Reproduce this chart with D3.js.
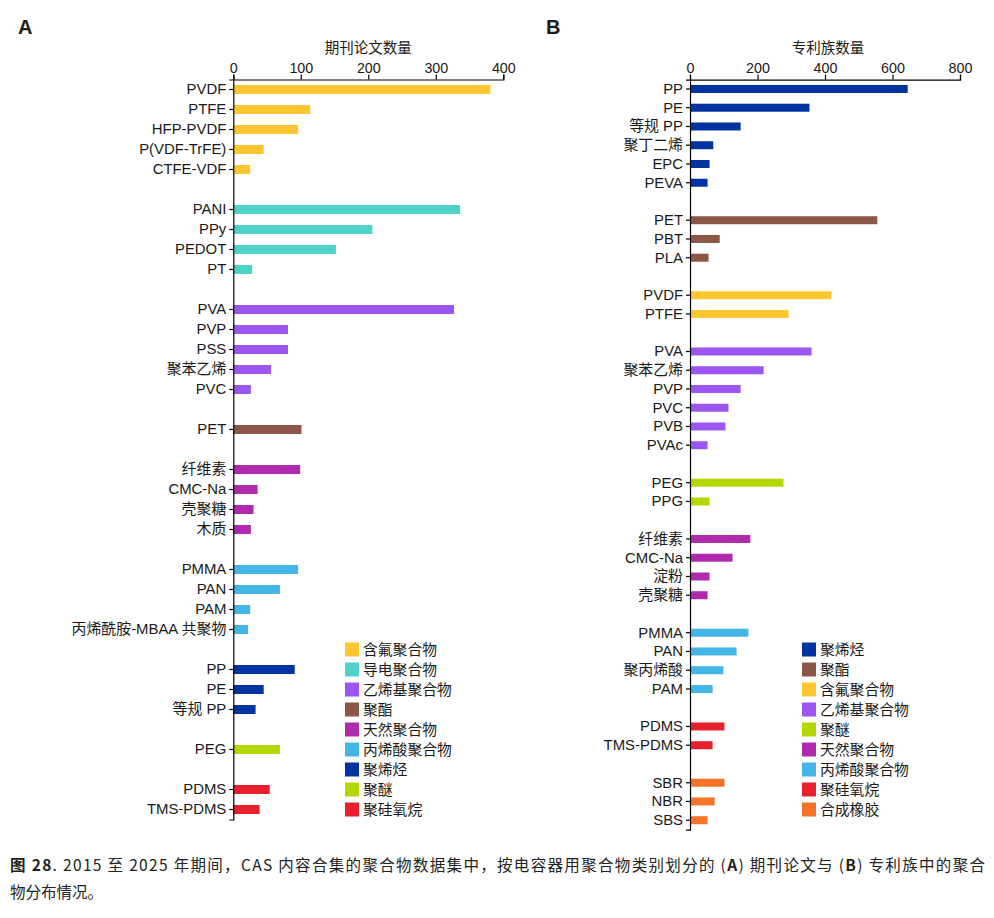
<!DOCTYPE html>
<html>
<head>
<meta charset="utf-8">
<script src="https://cdn.jsdelivr.net/npm/d3@7"></script>
<style>
  body { margin: 0; background: #fff; }
  svg { display: block; }
  text { font-family: "Liberation Sans", Arial, "Noto Sans CJK SC", sans-serif; fill: #1a1a1a; }
  .caption { font-family: "Noto Sans CJK SC", sans-serif; font-size: 15.5px; fill: #222; }
</style>
</head>
<body>
<svg id="chart" width="994" height="918"></svg>
<script>
// panel A: journal articles
const labelsA = ['PVDF', 'PTFE', 'HFP-PVDF', 'P(VDF-TrFE)', 'CTFE-VDF',
  'PANI', 'PPy', 'PEDOT', 'PT',
  'PVA', 'PVP', 'PSS', '聚苯乙烯', 'PVC',
  'PET',
  '纤维素', 'CMC-Na', '壳聚糖', '木质',
  'PMMA', 'PAN', 'PAM', '丙烯酰胺-MBAA 共聚物',
  'PP', 'PE', '等规 PP',
  'PEG',
  'PDMS', 'TMS-PDMS']
const valuesA = [381, 114, 96, 45, 25,
  336, 206, 152, 28,
  327, 81, 81, 56, 26,
  101,
  99, 36, 30, 26,
  96, 69, 25, 22,
  91, 45, 33,
  69,
  54, 39]
const groupsA = ['含氟聚合物', '含氟聚合物', '含氟聚合物', '含氟聚合物', '含氟聚合物',
  '导电聚合物', '导电聚合物', '导电聚合物', '导电聚合物',
  '乙烯基聚合物', '乙烯基聚合物', '乙烯基聚合物', '乙烯基聚合物', '乙烯基聚合物',
  '聚酯',
  '天然聚合物', '天然聚合物', '天然聚合物', '天然聚合物',
  '丙烯酸聚合物', '丙烯酸聚合物', '丙烯酸聚合物', '丙烯酸聚合物',
  '聚烯烃', '聚烯烃', '聚烯烃',
  '聚醚',
  '聚硅氧烷', '聚硅氧烷']
const legendA = ['含氟聚合物', '导电聚合物', '乙烯基聚合物', '聚酯', '天然聚合物', '丙烯酸聚合物', '聚烯烃', '聚醚', '聚硅氧烷']
const ticksA = [0, 100, 200, 300, 400]

// panel B: patent families
const labelsB = ['PP', 'PE', '等规 PP', '聚丁二烯', 'EPC', 'PEVA',
  'PET', 'PBT', 'PLA',
  'PVDF', 'PTFE',
  'PVA', '聚苯乙烯', 'PVP', 'PVC', 'PVB', 'PVAc',
  'PEG', 'PPG',
  '纤维素', 'CMC-Na', '淀粉', '壳聚糖',
  'PMMA', 'PAN', '聚丙烯酸', 'PAM',
  'PDMS', 'TMS-PDMS',
  'SBR', 'NBR', 'SBS']
const valuesB = [645, 354, 150, 69, 58, 52,
  555, 88, 55,
  419, 292,
  360, 218, 150, 114, 105, 52,
  277, 58,
  179, 126, 58, 52,
  173, 138, 99, 67,
  102, 67,
  102, 73, 52]
const groupsB = ['聚烯烃', '聚烯烃', '聚烯烃', '聚烯烃', '聚烯烃', '聚烯烃',
  '聚酯', '聚酯', '聚酯',
  '含氟聚合物', '含氟聚合物',
  '乙烯基聚合物', '乙烯基聚合物', '乙烯基聚合物', '乙烯基聚合物', '乙烯基聚合物', '乙烯基聚合物',
  '聚醚', '聚醚',
  '天然聚合物', '天然聚合物', '天然聚合物', '天然聚合物',
  '丙烯酸聚合物', '丙烯酸聚合物', '丙烯酸聚合物', '丙烯酸聚合物',
  '聚硅氧烷', '聚硅氧烷',
  '合成橡胶', '合成橡胶', '合成橡胶']
const legendB = ['聚烯烃', '聚酯', '含氟聚合物', '乙烯基聚合物', '聚醚', '天然聚合物', '丙烯酸聚合物', '聚硅氧烷', '合成橡胶']
const ticksB = [0, 200, 400, 600, 800]

const groupNames = ['含氟聚合物', '导电聚合物', '乙烯基聚合物', '聚酯', '天然聚合物', '丙烯酸聚合物', '聚烯烃', '聚醚', '聚硅氧烷', '合成橡胶']
const groupColors = ['#ffc62f', '#4fd3c9', '#9b55f0', '#8c5749', '#b02aae', '#43b5e6', '#0033a0', '#b6d600', '#e8202e', '#f5742a']
const color = d3.scaleOrdinal(groupNames, groupColors)

const svg = d3.select('#chart')

function drawPanel (p) {
  // rows: one per bar plus an empty row between groups
  const rows = []
  p.labels.forEach(function (d, i) {
    if (i > 0 && p.groups[i] !== p.groups[i - 1]) rows.push(null)
    rows.push(i)
  })
  const rowIndex = {}
  rows.forEach(function (d, r) { if (d !== null) rowIndex[d] = r })

  const x = d3.scaleLinear().domain([0, p.max]).range([p.left, p.right])
  const y = d3.scaleBand().domain(d3.range(rows.length)).range([p.top, p.bottom])

  const g = svg.append('g')

  g.selectAll('rect.bar')
    .data(p.values)
    .join('rect')
    .attr('class', 'bar')
    .attr('x', x(0))
    .attr('y', (d, i) => y(rowIndex[i]) + (y.bandwidth() - p.barH) / 2)
    .attr('width', d => x(d) - x(0))
    .attr('height', p.barH)
    .attr('fill', (d, i) => color(p.groups[i]))

  // top value axis
  const xAxis = g.append('g')
    .attr('transform', 'translate(0,' + p.top + ')')
    .call(d3.axisTop(x).tickValues(p.ticks).tickSize(5).tickSizeOuter(5).tickPadding(2))
  xAxis.selectAll('text').style('font-size', '14.3px').attr('fill', '#1a1a1a')

  // left category axis
  const yAxis = g.append('g')
    .attr('transform', 'translate(' + p.left + ',0)')
    .call(d3.axisLeft(y)
      .tickValues(p.labels.map((d, i) => rowIndex[i]))
      .tickFormat(r => p.labels[rows[r]])
      .tickSize(4).tickSizeOuter(4).tickPadding(3))
  yAxis.selectAll('text').style('font-size', '14.9px').attr('fill', '#1a1a1a')

  g.selectAll('.domain, .tick line').attr('stroke', '#000').attr('stroke-width', 1.2)

  g.append('text')
    .attr('x', (p.left + p.right) / 2 + p.titleShift)
    .attr('y', 53)
    .attr('text-anchor', 'middle')
    .style('font-size', '14.5px')
    .text(p.title)

  g.append('text')
    .attr('x', p.letterX)
    .attr('y', 34)
    .style('font-size', '20px')
    .style('font-weight', 'bold')
    .text(p.letter)

  // legend
  const lg = g.append('g')
  lg.selectAll('rect')
    .data(p.legend)
    .join('rect')
    .attr('x', p.legendX)
    .attr('y', (d, i) => 642.5 + i * 20)
    .attr('width', 14)
    .attr('height', 14)
    .attr('fill', d => color(d))
  lg.selectAll('text')
    .data(p.legend)
    .join('text')
    .attr('x', p.legendX + 18)
    .attr('y', (d, i) => 654.8 + i * 20)
    .style('font-size', '14.8px')
    .text(d => d)
}

drawPanel({
  labels: labelsA, values: valuesA, groups: groupsA, legend: legendA, ticks: ticksA,
  max: 400, left: 233.3, right: 503.3, top: 79.5, bottom: 819.5, barH: 9,
  title: '期刊论文数量', titleShift: 0, letter: 'A', letterX: 18, legendX: 345
})

drawPanel({
  labels: labelsB, values: valuesB, groups: groupsB, legend: legendB, ticks: ticksB,
  max: 800, left: 690, right: 960, top: 79.6, bottom: 829.6, barH: 8,
  title: '专利族数量', titleShift: 3, letter: 'B', letterX: 546, legendX: 802
})

// caption
const cap = svg.append('text').attr('class', 'caption').attr('x', 10).attr('y', 871)
  .attr('textLength', 975).attr('lengthAdjust', 'spacing')
cap.append('tspan').style('font-weight', 'bold').text('图 28')
cap.append('tspan').text('. 2015 至 2025 年期间，CAS 内容合集的聚合物数据集中，按电容器用聚合物类别划分的 (')
cap.append('tspan').style('font-weight', 'bold').text('A')
cap.append('tspan').text(') 期刊论文与 (')
cap.append('tspan').style('font-weight', 'bold').text('B')
cap.append('tspan').text(') 专利族中的聚合')
svg.append('text').attr('class', 'caption').attr('x', 10).attr('y', 898).text('物分布情况。')
</script>
</body>
</html>
